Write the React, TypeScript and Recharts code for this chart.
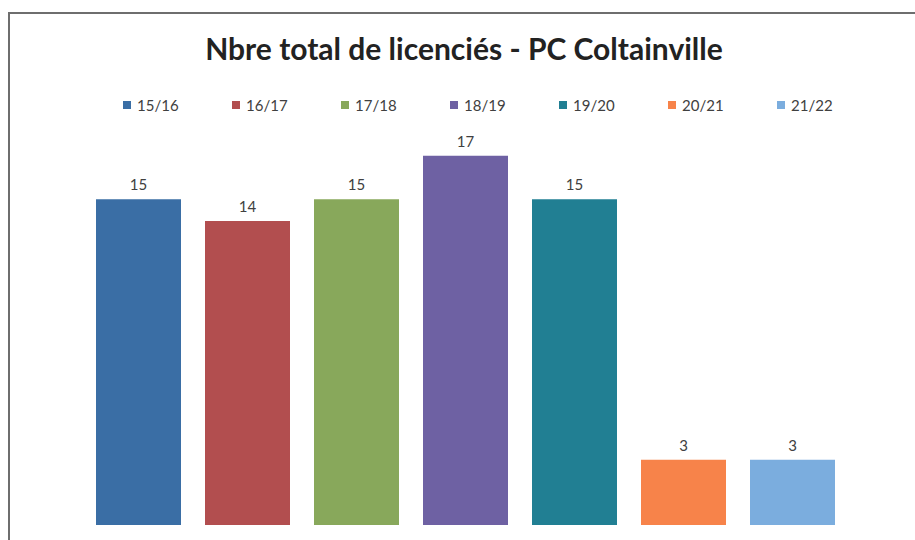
import { BarChart, Bar, XAxis, YAxis, Legend, LabelList } from 'recharts';

const seasons = ['15/16', '16/17', '17/18', '18/19', '19/20', '20/21', '21/22'];
const licencies = [15, 14, 15, 17, 15, 3, 3];
const colors = ['#3a6ea5', '#b24e4f', '#88a85b', '#6e61a3', '#217f93', '#f7834a', '#7badde'];

const row: Record<string, string | number> = { name: 'Licenciés' };
seasons.forEach((s, i) => {
    row[`s${i}`] = licencies[i];
});
const data = [row];

const renderLegend = (props: any) => {
    const items = props.payload || [];
    return (
        <div style={{ display: 'flex', alignItems: 'center', height: 18, paddingLeft: 123 }}>
            {items.map((item: any) => (
                <div key={item.value} style={{ width: 109, display: 'flex', alignItems: 'center' }}>
                    <span style={{ width: 8, height: 8, background: item.color, marginRight: 6, display: 'inline-block' }} />
                    <span style={{ fontSize: 15, color: '#404040', lineHeight: '18px' }}>{item.value}</span>
                </div>
            ))}
        </div>
    );
};

const App = () => {
    return (
        <div style={{ position: 'absolute', left: 0, top: 0, width: 915, height: 540, background: '#fff', fontFamily: 'Lato, sans-serif', overflow: 'hidden' }}>
            <div style={{ position: 'absolute', left: 8, top: 12, width: 920, height: 540, borderTop: '2px solid #6e6e6e', borderLeft: '2px solid #6e6e6e' }} />
            <div style={{ position: 'absolute', left: 0, top: 30, width: 928, textAlign: 'center', fontSize: 30, fontWeight: 700, color: '#222', lineHeight: '36px' }}>
                Nbre total de licenciés - PC Coltainville
            </div>
            <BarChart
                width={915}
                height={540}
                data={data}
                margin={{ top: 116, right: 68, left: 84, bottom: 15 }}
                barCategoryGap={12}
                barGap={24}
                style={{ position: 'absolute', left: 0, top: 0 }}
            >
                <XAxis dataKey="name" hide />
                <YAxis hide domain={[0, 18]} />
                <Legend verticalAlign="top" content={renderLegend} wrapperStyle={{ left: 0, top: 96, width: 915 }} />
                {seasons.map((s, i) => (
                    <Bar key={s} dataKey={`s${i}`} name={s} fill={colors[i]} isAnimationActive={false}>
                        <LabelList dataKey={`s${i}`} position="top" offset={9} fill="#404040" fontSize={15} fontFamily="Lato, sans-serif" />
                    </Bar>
                ))}
            </BarChart>
        </div>
    );
};

export default App;
